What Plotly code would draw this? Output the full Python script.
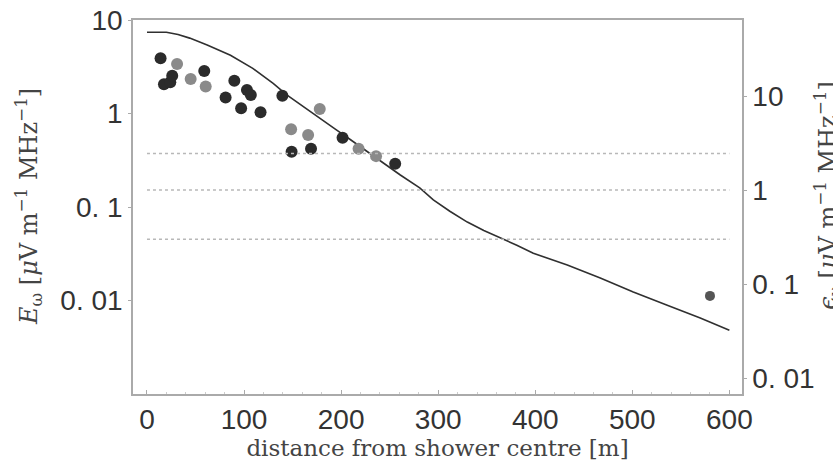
import plotly.graph_objects as go

# ---- data ----
curve_x = [0, 20, 32, 44, 62, 86, 109, 130, 144, 160, 178, 194, 209, 235, 261, 281, 295, 312, 330, 347, 364, 381, 398, 433, 467, 501, 536, 570, 600]
curve_y = [7.4, 7.4, 7.0, 6.4, 5.4, 4.2, 3.04, 2.1, 1.58, 1.2, 0.89, 0.68, 0.53, 0.34, 0.22, 0.16, 0.119, 0.09, 0.069, 0.056, 0.047, 0.039, 0.032, 0.024, 0.0174, 0.0123, 0.0089, 0.0065, 0.0048]

dark_x = [14, 17.5, 24, 26, 59, 81, 90, 97, 103, 107, 117, 139.5, 149, 169, 201.5, 255.7]
dark_y = [3.9, 2.05, 2.16, 2.54, 2.85, 1.48, 2.24, 1.14, 1.78, 1.58, 1.03, 1.55, 0.39, 0.42, 0.55, 0.29]

grey_x = [31, 45, 60.5, 148.5, 166, 178, 218, 236]
grey_y = [3.39, 2.34, 1.94, 0.68, 0.59, 1.12, 0.42, 0.35]

far_x = [580]
far_y = [0.0112]

# threshold levels (right axis, epsilon units)
threshold_levels = [2.45, 1.0, 0.3]
threshold_x = [0, 600]

x_ticks = [0, 100, 200, 300, 400, 500, 600]
y_ticks = [10, 1, 0.1, 0.01]
y_ticktext = ["10", "1", "0. 1", "0. 01"]

unit = " [<i>μ</i>V m<sup>−1</sup> MHz<sup>−1</sup>]"
x_title = "distance from shower centre [m]"
y_left_title = "<i>E</i><sub>ω</sub>" + unit
y_right_title = "<i>ϵ</i><sub>ν</sub>" + unit

fig = go.Figure()

for lvl in threshold_levels:
    fig.add_trace(go.Scatter(x=threshold_x, y=[lvl, lvl], yaxis="y2", mode="lines",
                             line=dict(color="#b8b8b8", width=1.5, dash="dot"),
                             showlegend=False, hoverinfo="skip"))

fig.add_trace(go.Scatter(x=curve_x, y=curve_y, mode="lines",
                         line=dict(color="#303030", width=1.6),
                         showlegend=False))

fig.add_trace(go.Scatter(x=grey_x, y=grey_y, mode="markers",
                         marker=dict(color="#8a8a8a", size=12, line=dict(width=0)),
                         showlegend=False))
fig.add_trace(go.Scatter(x=dark_x, y=dark_y, mode="markers",
                         marker=dict(color="#2b2b2b", size=12, line=dict(width=0)),
                         showlegend=False))
fig.add_trace(go.Scatter(x=far_x, y=far_y, mode="markers",
                         marker=dict(color="#555555", size=10, line=dict(width=0)),
                         showlegend=False))

tick_font = dict(family="Liberation Sans, Arial, sans-serif", size=28, color="#333333")
x_title_font = dict(family="DejaVu Serif, serif", size=23, color="#444444")
y_title_font = dict(family="DejaVu Serif, serif", size=24, color="#444444")

fig.update_layout(
    width=833, height=463,
    margin=dict(l=133, r=91, t=20, b=69),
    paper_bgcolor="white", plot_bgcolor="white",
    xaxis=dict(range=[-14.4, 613], tickvals=x_ticks, ticks="inside", ticklen=4,
               tickcolor="#aaaaaa", showgrid=False, zeroline=False, automargin=False,
               showline=True, linecolor="#aaaaaa", linewidth=1.5, mirror=True,
               tickfont=tick_font,
               minor=dict(ticks="inside", ticklen=2, tickcolor="#cccccc", dtick=20),
               title=dict(text=x_title, font=x_title_font, standoff=4)),
    yaxis=dict(type="log", range=[-3, 1], tickvals=y_ticks, ticktext=y_ticktext,
               ticks="outside", ticklen=3, tickcolor="#aaaaaa", showgrid=False,
               zeroline=False, showline=True, linecolor="#aaaaaa", linewidth=1.5,
               mirror=True, tickfont=tick_font, automargin=False),
    yaxis2=dict(type="log", range=[-2.17, 1.81], overlaying="y", side="right",
                tickvals=y_ticks, ticktext=y_ticktext, ticks="outside", ticklen=3,
                tickcolor="#aaaaaa", showgrid=False, zeroline=False, showline=True,
                linecolor="#aaaaaa", linewidth=1.5, tickfont=tick_font, automargin=False),
)

fig.add_annotation(text=y_left_title, xref="paper", yref="paper", x=0, y=0.5,
                   xshift=-105, textangle=-90, showarrow=False,
                   xanchor="center", yanchor="middle", font=y_title_font)
fig.add_annotation(text=y_right_title, xref="paper", yref="paper", x=1, y=0.53,
                   xshift=86, textangle=-90, showarrow=False,
                   xanchor="center", yanchor="middle", font=y_title_font)

fig.write_html("out.html", config={"displayModeBar": False},
               post_script="document.body.style.margin='0';document.body.style.overflow='hidden';")
